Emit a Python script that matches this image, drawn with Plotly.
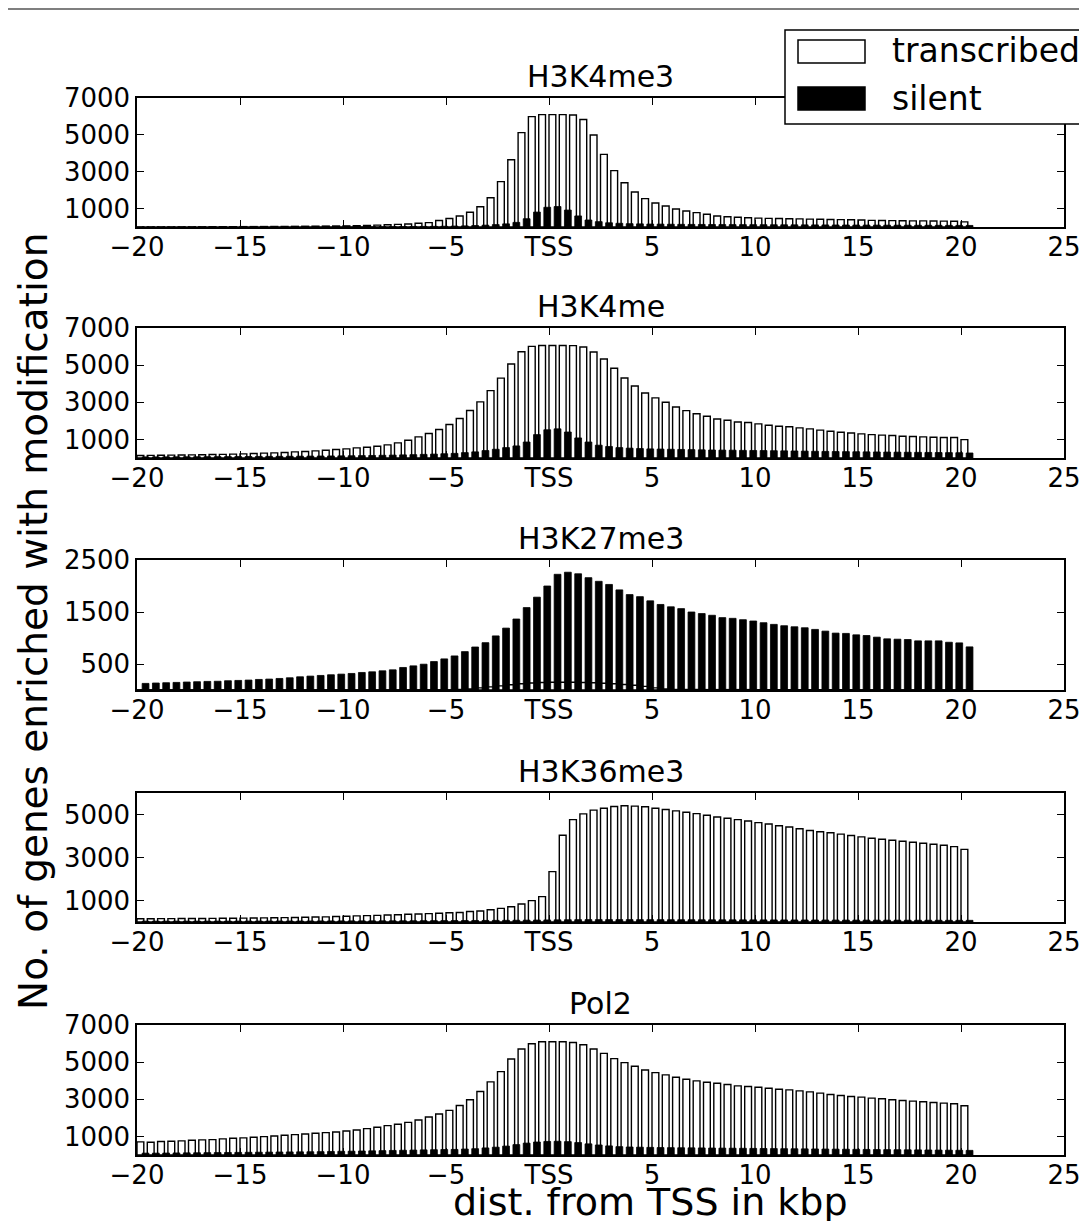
import plotly.graph_objects as go

# bin start positions (kbp from TSS), 0.5 kbp bins
bins = [-20.0, -19.5, -19.0, -18.5, -18.0, -17.5, -17.0, -16.5, -16.0, -15.5,
        -15.0, -14.5, -14.0, -13.5, -13.0, -12.5, -12.0, -11.5, -11.0, -10.5,
        -10.0, -9.5, -9.0, -8.5, -8.0, -7.5, -7.0, -6.5, -6.0, -5.5,
        -5.0, -4.5, -4.0, -3.5, -3.0, -2.5, -2.0, -1.5, -1.0, -0.5,
        0.0, 0.5, 1.0, 1.5, 2.0, 2.5, 3.0, 3.5, 4.0, 4.5,
        5.0, 5.5, 6.0, 6.5, 7.0, 7.5, 8.0, 8.5, 9.0, 9.5,
        10.0, 10.5, 11.0, 11.5, 12.0, 12.5, 13.0, 13.5, 14.0, 14.5,
        15.0, 15.5, 16.0, 16.5, 17.0, 17.5, 18.0, 18.5, 19.0, 19.5, 20.0]

panel_titles = ["H3K4me3", "H3K4me", "H3K27me3", "H3K36me3", "Pol2"]
x_tickvals = [-20, -15, -10, -5, 0, 5, 10, 15, 20, 25]
x_ticktext = ["\u221220", "\u221215", "\u221210", "\u22125", "TSS", "5", "10", "15", "20", "25"]
legend_labels = ["transcribed", "silent"]

h3k4me3_transcribed = [10, 10, 10, 10, 12, 12, 14, 15, 16, 18,
                       20, 22, 25, 28, 30, 35, 40, 45, 50, 55,
                       60, 70, 85, 100, 120, 140, 160, 200, 235, 350,
                       460, 600, 800, 1100, 1590, 2460, 3650, 5120, 5990, 6100,
                       6100, 6100, 6080, 5830, 4990, 3940, 3060, 2400, 1900, 1540,
                       1300, 1140, 980, 870, 780, 690, 600, 560, 530, 500,
                       480, 470, 460, 450, 440, 430, 420, 410, 400, 390,
                       380, 360, 350, 345, 340, 335, 330, 325, 320, 315, 280]
h3k4me3_silent = [5, 5, 5, 5, 5, 5, 5, 5, 5, 5,
                  6, 6, 7, 7, 8, 8, 9, 10, 11, 12,
                  14, 16, 18, 20, 22, 25, 28, 32, 36, 40,
                  50, 60, 80, 100, 130, 170, 250, 450, 810, 1070,
                  1110, 920, 600, 380, 290, 230, 200, 180, 170, 160,
                  155, 150, 145, 140, 138, 135, 132, 130, 128, 126,
                  124, 122, 120, 118, 116, 114, 112, 110, 108, 106,
                  104, 102, 100, 98, 96, 94, 92, 90, 88, 86, 84]

h3k4me_transcribed = [134, 140, 152, 155, 160, 170, 175, 188, 195, 206,
                      224, 242, 260, 278, 296, 331, 349, 385, 421, 457,
                      493, 547, 582, 636, 708, 815, 959, 1138, 1317, 1532,
                      1801, 2124, 2554, 3020, 3630, 4300, 5060, 5720, 6010, 6060,
                      6060, 6060, 6050, 5980, 5710, 5330, 4830, 4310, 3880, 3500,
                      3240, 3000, 2750, 2550, 2380, 2250, 2100, 2030, 1940, 1910,
                      1840, 1760, 1710, 1680, 1620, 1570, 1500, 1440, 1390, 1350,
                      1300, 1260, 1230, 1210, 1170, 1160, 1140, 1120, 1100, 1100, 990]
h3k4me_silent = [60, 60, 62, 64, 66, 68, 70, 72, 75, 78,
                 80, 83, 86, 90, 94, 98, 102, 106, 110, 115,
                 120, 128, 136, 145, 155, 168, 180, 195, 210, 230,
                 250, 290, 330, 400, 470, 560, 650, 860, 1260, 1520,
                 1570, 1400, 1080, 860, 690, 620, 560, 530, 510, 490,
                 480, 470, 460, 450, 440, 430, 425, 420, 410, 405,
                 400, 392, 385, 378, 370, 362, 355, 348, 342, 336,
                 330, 325, 320, 315, 310, 305, 300, 295, 290, 285, 270]

h3k27me3_transcribed = [5, 5, 5, 5, 5, 5, 5, 5, 5, 5,
                        5, 5, 5, 5, 5, 5, 5, 5, 5, 5,
                        5, 5, 5, 5, 5, 5, 5, 5, 5, 5,
                        5, 10, 20, 40, 60, 80, 100, 120, 135, 145,
                        150, 150, 148, 145, 140, 130, 120, 105, 90, 70,
                        40, 20, 10, 10, 10, 8, 8, 8, 8, 8,
                        6, 6, 6, 6, 6, 6, 6, 6, 6, 6,
                        5, 5, 5, 5, 5, 5, 5, 5, 5, 5, 5]
h3k27me3_silent = [127, 134, 140, 146, 153, 159, 165, 168, 178, 184,
                   191, 203, 210, 222, 235, 254, 267, 280, 293, 305,
                   318, 337, 350, 369, 388, 433, 464, 496, 547, 598,
                   655, 738, 827, 910, 1040, 1190, 1365, 1585, 1785, 2000,
                   2225, 2265, 2235, 2160, 2090, 2030, 1925, 1835, 1795, 1715,
                   1645, 1600, 1565, 1500, 1470, 1437, 1392, 1378, 1352, 1327,
                   1294, 1262, 1236, 1216, 1197, 1165, 1132, 1094, 1088, 1061,
                   1048, 1016, 984, 977, 971, 945, 945, 945, 918, 906, 829]

h3k36me3_transcribed = [150, 152, 155, 158, 160, 163, 166, 170, 173, 177,
                        180, 186, 192, 198, 205, 212, 220, 230, 240, 255,
                        270, 283, 296, 310, 325, 340, 360, 375, 390, 410,
                        430, 445, 490, 510, 570, 635, 712, 838, 995, 1182,
                        2343, 4037, 4760, 5030, 5205, 5294, 5372, 5404, 5388, 5357,
                        5294, 5231, 5169, 5106, 5043, 4965, 4886, 4824, 4761, 4698,
                        4620, 4557, 4480, 4420, 4340, 4259, 4196, 4149, 4086, 4024,
                        3961, 3898, 3851, 3804, 3757, 3710, 3663, 3616, 3569, 3506, 3380]
h3k36me3_silent = [40, 40, 40, 41, 41, 42, 42, 43, 43, 44,
                   44, 45, 45, 46, 46, 47, 48, 49, 50, 51,
                   52, 53, 54, 55, 56, 57, 58, 60, 62, 64,
                   66, 68, 70, 72, 75, 78, 82, 86, 90, 95,
                   100, 105, 108, 110, 110, 110, 110, 110, 109, 108,
                   107, 106, 105, 104, 103, 102, 101, 100, 99, 98,
                   97, 96, 95, 94, 93, 92, 91, 90, 89, 88,
                   87, 86, 85, 84, 83, 82, 81, 80, 79, 78, 77]

pol2_transcribed = [705, 688, 723, 741, 759, 795, 813, 830, 866, 902,
                    920, 955, 991, 1027, 1063, 1098, 1134, 1170, 1205, 1241,
                    1295, 1348, 1419, 1491, 1580, 1652, 1759, 1884, 2044, 2205,
                    2401, 2669, 2973, 3419, 3937, 4490, 5169, 5705, 5990, 6097,
                    6097, 6097, 6061, 5937, 5705, 5472, 5187, 4972, 4776, 4580,
                    4437, 4312, 4187, 4080, 3990, 3919, 3865, 3794, 3722, 3687,
                    3651, 3597, 3544, 3508, 3455, 3401, 3330, 3258, 3205, 3151,
                    3115, 3062, 3026, 2972, 2937, 2901, 2865, 2830, 2794, 2758, 2651]
pol2_silent = [100, 100, 105, 110, 115, 120, 125, 130, 135, 140,
               145, 150, 155, 160, 165, 170, 175, 180, 190, 200,
               205, 215, 225, 235, 245, 255, 265, 275, 285, 295,
               300, 320, 340, 380, 420, 480, 560, 640, 700, 730,
               740, 720, 670, 600, 540, 490, 450, 430, 420, 410,
               400, 395, 390, 385, 380, 375, 370, 365, 360, 355,
               350, 345, 340, 335, 330, 325, 320, 315, 310, 305,
               300, 295, 290, 285, 280, 275, 270, 265, 260, 255, 250]

transcribed_series = [h3k4me3_transcribed, h3k4me_transcribed, h3k27me3_transcribed,
                      h3k36me3_transcribed, pol2_transcribed]
silent_series = [h3k4me3_silent, h3k4me_silent, h3k27me3_silent,
                 h3k36me3_silent, pol2_silent]
y_ranges = [[0, 7000], [0, 7000], [0, 2500], [0, 6000], [0, 7000]]
y_tickvals = [[1000, 3000, 5000, 7000], [1000, 3000, 5000, 7000], [500, 1500, 2500],
              [1000, 3000, 5000], [1000, 3000, 5000, 7000]]

# layout geometry: target page pixels; the page body adds an 8px offset
OFF = 8
W, H = 1071, 1213
PL, PR, PT, PB = 137, 1064, 98, 1155      # plot area in page pixels
ML = PL - OFF
MT = PT - OFF
MR = W - (PR - OFF)
MB = H - (PB - OFF)
PW = W - ML - MR
PH = H - MT - MB
panel_px = [(98, 227), (328, 458), (560, 690), (793, 922), (1025, 1155)]


def py(p):
    return (PB - p) / PH


def px(p):
    return (p - PL) / PW


FONT = "DejaVu Sans"
fig = go.Figure()
layout = dict(
    width=W, height=H, autosize=False,
    margin=dict(l=ML, r=MR, t=MT, b=MB, pad=0, autoexpand=False),
    paper_bgcolor="white", plot_bgcolor="white",
    font=dict(family=FONT, color="black", size=26),
    barmode="overlay",
    showlegend=False,
)
annotations = []
shapes = []

for i in range(5):
    sfx = "" if i == 0 else str(i + 1)
    fig.add_trace(go.Bar(
        x=bins, y=transcribed_series[i], offset=0, width=0.33,
        marker=dict(color="white", line=dict(color="black", width=1.4)),
        xaxis="x" + sfx, yaxis="y" + sfx, name=legend_labels[0]))
    fig.add_trace(go.Bar(
        x=bins, y=silent_series[i], offset=0.25, width=0.33,
        marker=dict(color="black", line=dict(color="black", width=0.8)),
        xaxis="x" + sfx, yaxis="y" + sfx, name=legend_labels[1]))
    top, bot = panel_px[i]
    dom = [py(bot), py(top)]
    layout["xaxis" + sfx] = dict(
        domain=[0, 1], anchor="y" + sfx, range=[-20, 25],
        tickmode="array", tickvals=x_tickvals, ticktext=x_ticktext,
        ticks="inside", ticklen=7, tickwidth=1, tickcolor="black",
        mirror="ticks", showline=True, linecolor="black", linewidth=1.5,
        showgrid=False, zeroline=False, automargin=False,
        ticklabeloverflow="allow", ticklabelstandoff=-4,
        tickfont=dict(size=26, family=FONT))
    layout["yaxis" + sfx] = dict(
        domain=dom, anchor="x" + sfx, range=y_ranges[i],
        tickmode="array", tickvals=y_tickvals[i],
        ticktext=[str(v) for v in y_tickvals[i]],
        ticks="inside", ticklen=7, tickwidth=1, tickcolor="black",
        mirror="ticks", showline=True, linecolor="black", linewidth=1.5,
        showgrid=False, zeroline=False, automargin=False,
        tickfont=dict(size=26, family=FONT))
    annotations.append(dict(
        text=panel_titles[i], x=0.5, y=dom[1], xref="paper", yref="paper",
        xanchor="center", yanchor="bottom", yshift=2, showarrow=False,
        font=dict(size=30, family=FONT, color="black")))

# axis titles
annotations.append(dict(
    text="No. of genes enriched with modification", x=px(33), y=py(622),
    xref="paper", yref="paper", textangle=-90, showarrow=False,
    xanchor="center", yanchor="middle",
    font=dict(size=39, family=FONT, color="black")))
annotations.append(dict(
    text="dist. from TSS in kbp", x=px(650), y=py(1202),
    xref="paper", yref="paper", showarrow=False,
    xanchor="center", yanchor="middle",
    font=dict(size=38, family=FONT, color="black")))

# top border line of the figure
shapes.append(dict(type="line", xref="paper", yref="paper",
                   x0=px(0), x1=px(1079), y0=py(9), y1=py(9),
                   line=dict(color="#555555", width=1.5), layer="above"))

# legend box
shapes.append(dict(type="rect", xref="paper", yref="paper",
                   x0=px(785), x1=px(1085), y0=py(124), y1=py(30),
                   fillcolor="white", line=dict(color="black", width=1.5),
                   layer="above"))
shapes.append(dict(type="rect", xref="paper", yref="paper",
                   x0=px(798), x1=px(865), y0=py(63), y1=py(40),
                   fillcolor="white", line=dict(color="black", width=1.5),
                   layer="above"))
shapes.append(dict(type="rect", xref="paper", yref="paper",
                   x0=px(798), x1=px(865), y0=py(110), y1=py(87),
                   fillcolor="black", line=dict(color="black", width=1.5),
                   layer="above"))
annotations.append(dict(text=legend_labels[0], x=px(890), y=py(51),
                        xref="paper", yref="paper", showarrow=False,
                        xanchor="left", yanchor="middle",
                        font=dict(size=33, family=FONT, color="black")))
annotations.append(dict(text=legend_labels[1], x=px(890), y=py(98),
                        xref="paper", yref="paper", showarrow=False,
                        xanchor="left", yanchor="middle",
                        font=dict(size=33, family=FONT, color="black")))

layout["annotations"] = annotations
layout["shapes"] = shapes
fig.update_layout(**layout)
fig.write_html("out.html")
